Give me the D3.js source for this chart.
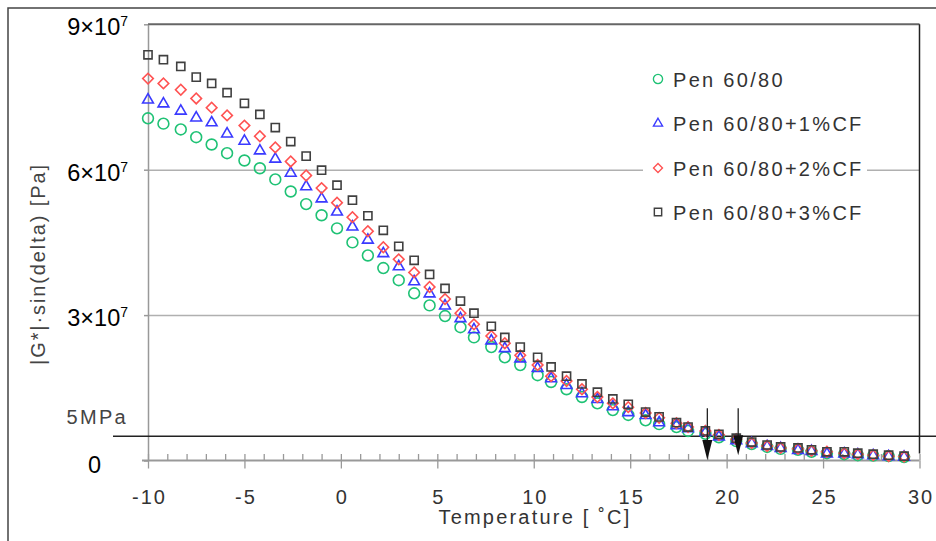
<!DOCTYPE html>
<html>
<head>
<meta charset="utf-8">
<script src="https://cdn.jsdelivr.net/npm/d3@7"></script>
<style>
  html, body { margin: 0; padding: 0; background: #fff; }
  svg { display: block; font-family: Arial, "Liberation Sans", sans-serif; }
</style>
</head>
<body>
<svg id="chart" width="936" height="541"></svg>
<script>
// ---------- data ----------
const temps = [-10.0,-9.2,-8.3,-7.5,-6.7,-5.9,-5.0,-4.2,-3.4,-2.6,-1.8,-1.0,-0.2,0.6,1.4,2.2,3.0,3.8,4.6,5.4,
               6.2,6.9,7.8,8.5,9.3,10.2,10.9,11.7,12.5,13.3,14.1,14.9,15.8,16.5,17.4,18.0,18.9,19.6,20.5,21.3,
               22.1,22.8,23.7,24.4,25.2,26.1,26.8,27.6,28.4,29.2];
// values in MPa
const pen = [70.6,69.5,68.3,66.7,65.2,63.4,61.9,60.3,58.0,55.5,52.9,50.6,47.9,45.0,42.3,39.7,37.2,34.5,32.0,29.8,
             27.5,25.4,23.4,21.3,19.7,17.6,16.2,14.7,13.1,11.8,10.4,9.4,8.3,7.5,6.9,6.1,5.5,4.8,4.0,3.4,
             2.8,2.4,2.2,1.8,1.5,1.3,1.1,1.0,0.9,0.7];
const cf1 = [74.5,73.7,72.2,70.8,69.8,67.5,66.0,64.0,62.3,59.4,56.6,54.1,51.4,48.3,45.6,42.8,40.1,37.0,34.5,32.0,
             29.4,27.1,24.8,23.2,21.1,19.1,17.0,15.6,13.9,12.7,11.2,10.0,9.4,7.9,7.3,6.7,5.9,5.0,4.2,3.6,
             3.0,2.6,2.2,2.0,1.5,1.5,1.3,1.1,0.9,0.8];
const cf2 = [78.8,77.8,76.5,74.7,72.8,71.2,69.1,66.9,64.6,61.7,58.8,56.2,53.2,50.2,47.3,44.0,41.5,38.8,35.8,33.3,
             30.4,28.1,25.7,24.2,21.7,19.7,17.4,16.4,14.7,13.1,11.8,11.0,9.8,8.8,7.7,6.9,6.1,5.3,4.4,3.6,
             3.0,2.6,2.4,2.0,1.8,1.5,1.3,1.1,0.9,0.8];
const cf3 = [83.7,82.7,81.3,79.1,77.8,75.9,73.7,71.4,68.7,65.8,62.8,59.9,56.8,53.7,50.5,47.5,44.2,41.3,38.4,35.5,
             32.9,30.4,27.7,25.4,23.4,21.3,19.3,17.4,15.8,14.1,12.7,11.6,10.0,9.0,7.8,6.9,6.1,5.4,4.6,3.8,
             3.2,2.8,2.6,2.2,1.8,1.8,1.5,1.3,1.1,0.9];

const seriesNames = ["Pen 60/80", "Pen 60/80+1%CF", "Pen 60/80+2%CF", "Pen 60/80+3%CF"];
const seriesValues = [pen, cf1, cf2, cf3];
const seriesColors = ["#1fc275", "#3a3aff", "#ff5252", "#404040"];
const seriesShapes = ["circle", "triangle", "diamond", "square"];

const xTicks = [-10, -5, 0, 5, 10, 15, 20, 25, 30];
const xMinorTicks = [-9,-8,-7,-6,-4,-3,-2,-1,1,2,3,4,6,7,8,9,11,12,13,14,16,17,18,19,21,22,23,24,26,27,28,29];
const yTicks = [0, 30, 60, 90];          // MPa
const yTickMantissa = {30: "3", 60: "6", 90: "9"};
const yGrid = [30, 60];
const limitValue = 5;                     // MPa
const limitLabel = "5MPa";
const arrowTemps = [19.0, 20.6];
const arrowTop = [10.8, 10.8];
const arrowTip = [0.1, 1.1];
const xTitle = "Temperature [ ˚C]";
const yTitle = "|G*|·sin(delta) [Pa]";

// ---------- scales ----------
const svg = d3.select("#chart");
const x = d3.scaleLinear().domain([-10, 30]).range([148, 919.5]);
const y = d3.scaleLinear().domain([0, 90]).range([460.5, 24.3]);

// outer frame
svg.append("path").attr("d", "M8,541V8H936").attr("fill", "none")
   .attr("stroke", "#444").attr("stroke-width", 1.5);

// gridlines
const grid = svg.append("g").attr("transform", `translate(${x(-10)},0)`)
  .call(d3.axisLeft(y).tickValues(yGrid).tickSize(-(x(30) - x(-10))).tickFormat(""));
grid.select(".domain").remove();
grid.selectAll("line").attr("stroke", "#b0b0b0").attr("stroke-width", 1.5);

// plot top & right border
svg.append("line").attr("x1", x(-10)).attr("x2", x(30)).attr("y1", y(90)).attr("y2", y(90))
   .attr("stroke", "#666").attr("stroke-width", 2);
svg.append("line").attr("x1", x(30)).attr("x2", x(30)).attr("y1", y(90)).attr("y2", y(0) - 7)
   .attr("stroke", "#222").attr("stroke-width", 1.5);

// y axis
const yAx = svg.append("g").attr("transform", `translate(${x(-10)},0)`)
  .call(d3.axisLeft(y).tickValues(yTicks).tickSize(4).tickSizeOuter(0).tickFormat(""));
yAx.select(".domain").attr("stroke", "#999").attr("stroke-width", 1.5);
yAx.selectAll("line").attr("stroke", "#999").attr("stroke-width", 1.5);

// y tick labels
const yl = svg.append("g").attr("font-size", 23.5).attr("fill", "#000");
yTicks.forEach(v => {
  if (v === 0) {
    yl.append("text").attr("x", 101).attr("y", y(v) + 12.5).attr("text-anchor", "end").text("0");
  } else {
    const t = yl.append("text").attr("x", 128).attr("y", y(v) + 11).attr("text-anchor", "end");
    t.append("tspan").text(yTickMantissa[v] + "×10");
    t.append("tspan").attr("font-size", 14).attr("dy", -9).text("7");
  }
});

// x axis: minor ticks (up), major ticks (both sides)
const xMinor = svg.append("g").attr("transform", `translate(0,${y(0)})`)
  .call(d3.axisBottom(x).tickValues(xMinorTicks.concat(xTicks)).tickSize(-6.5).tickSizeOuter(0).tickFormat(""));
xMinor.select(".domain").remove();
xMinor.selectAll("line").attr("stroke", "#999").attr("stroke-width", 1.3);
const xAx = svg.append("g").attr("transform", `translate(0,${y(0)})`)
  .call(d3.axisBottom(x).tickValues(xTicks).tickSize(8).tickSizeOuter(0).tickFormat(d => String(d)));
xAx.select(".domain").attr("d", `M${x(-10) - 6},0H${x(30)}`).attr("stroke", "#999").attr("stroke-width", 2);
xAx.selectAll("line").attr("stroke", "#999").attr("stroke-width", 1.3);
xAx.selectAll("text")
   .attr("y", 43).attr("dy", 0).attr("dx", 1)
   .attr("font-size", 20).attr("letter-spacing", 2).attr("fill", "#333")
   .attr("font-family", "Arial, 'Liberation Sans', sans-serif");

// 5 MPa limit line
svg.append("line").attr("x1", 113).attr("x2", 936).attr("y1", y(limitValue)).attr("y2", y(limitValue))
   .attr("stroke", "#222").attr("stroke-width", 1.5);
svg.append("text").attr("x", 128).attr("y", y(limitValue) - 12).attr("text-anchor", "end")
   .attr("font-size", 20).attr("letter-spacing", 2.3).attr("fill", "#444").text(limitLabel);

// axis titles
svg.append("text").attr("x", 535).attr("y", 524).attr("text-anchor", "middle")
   .attr("font-size", 20).attr("letter-spacing", 2.2).attr("fill", "#333").text(xTitle);
svg.append("text").attr("transform", "translate(45,264) rotate(-90)").attr("text-anchor", "middle")
   .attr("font-size", 20).attr("letter-spacing", 1.9).attr("fill", "#444").text(yTitle);

// marker generator
function markerPath(shape) {
  if (shape === "circle") return d3.symbol(d3.symbolCircle, 92)();
  if (shape === "triangle") return d3.symbol(d3.symbolTriangle, 50)();
  if (shape === "diamond") return d3.symbol(d3.symbolSquare, 56)();
  return d3.symbol(d3.symbolSquare, 66)();
}
function markerTransform(shape, px, py) {
  if (shape === "diamond") return `translate(${px},${py}) rotate(45)`;
  if (shape === "triangle") return `translate(${px},${py + 0.5})`;
  return `translate(${px},${py})`;
}

// series
seriesValues.forEach((vals, i) => {
  const shape = seriesShapes[i];
  svg.append("g").selectAll("path").data(vals).join("path")
    .attr("d", markerPath(shape))
    .attr("transform", (d, j) => markerTransform(shape, x(temps[j]), y(d)))
    .attr("fill", "none").attr("stroke", seriesColors[i]).attr("stroke-width", 1.6);
});

// arrows
arrowTemps.forEach((t, i) => {
  const ax = x(t), yTop = y(arrowTop[i]), yTip = y(arrowTip[i]);
  svg.append("line").attr("x1", ax).attr("x2", ax).attr("y1", yTop).attr("y2", yTip - 18)
     .attr("stroke", "#222").attr("stroke-width", 1.3);
  svg.append("path").attr("d", `M${ax - 5},${yTip - 20}L${ax + 5},${yTip - 20}L${ax},${yTip}Z`)
     .attr("fill", "#111");
});

// legend
const lg = svg.append("g");
lg.append("rect").attr("x", 643).attr("y", 58).attr("width", 224).attr("height", 176).attr("fill", "#fff");
const rows = [79, 123, 168, 212];
seriesNames.forEach((name, i) => {
  const shape = seriesShapes[i];
  lg.append("path").attr("d", markerPath(shape === "square" ? "sq" : shape))
    .attr("transform", markerTransform(shape, 658, rows[i]) + (shape === "square" ? " scale(0.9)" : " scale(0.85)"))
    .attr("fill", "none").attr("stroke", seriesColors[i]).attr("stroke-width", 1.6);
  lg.append("text").attr("x", 673).attr("y", rows[i] + 7.5)
    .attr("font-size", 20).attr("letter-spacing", 2.3).attr("fill", "#333").text(name);
});
</script>
</body>
</html>
